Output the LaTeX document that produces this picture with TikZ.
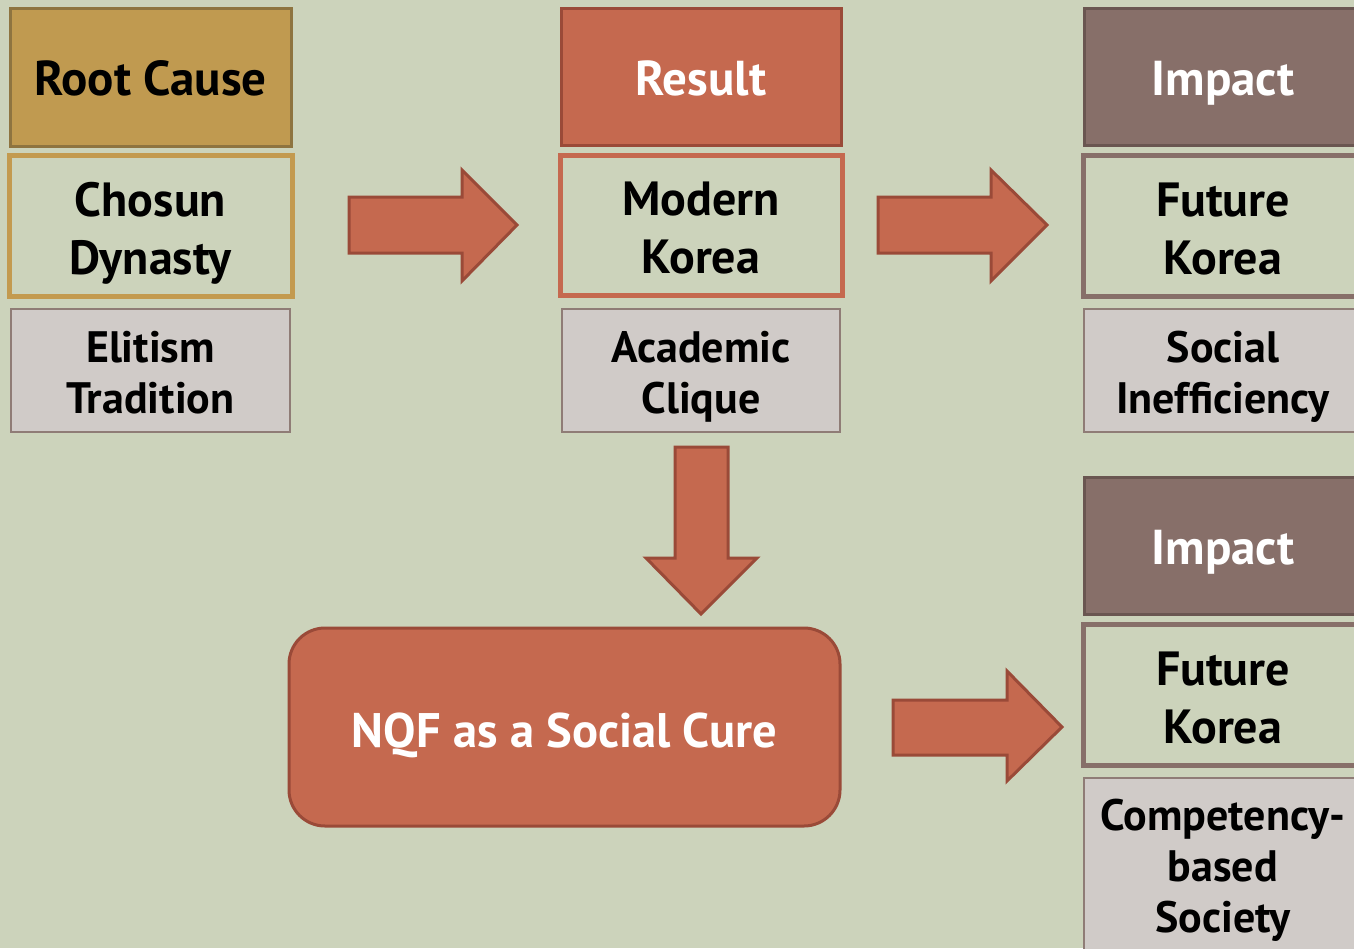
\documentclass[tikz,border=0pt]{standalone}
\usepackage{fontspec}
\setmainfont{PT Sans}
\definecolor{bgc}{HTML}{CCD3BB}
\definecolor{goldfill}{HTML}{C09A50}
\definecolor{golddark}{HTML}{8E7440}
\definecolor{goldframe}{HTML}{C39A4F}
\definecolor{redfill}{HTML}{C5694F}
\definecolor{reddark}{HTML}{9A4A38}
\definecolor{brownfill}{HTML}{876F69}
\definecolor{browndark}{HTML}{6A5651}
\definecolor{greyfill}{HTML}{D0CBC8}
\definecolor{greyedge}{HTML}{8F7C76}
\begin{document}
\begin{tikzpicture}[x=1pt,y=-1pt,
  box/.style={rectangle,inner sep=0pt,align=center,text depth=0pt},
  header/.style={box,line width=3pt,font=\bfseries\fontsize{49}{56}\selectfont,text height=37pt},
  frame/.style={box,fill=bgc,line width=5pt,font=\bfseries\fontsize{48}{58}\selectfont,text height=97pt},
  note/.style={box,fill=greyfill,draw=greyedge,line width=1.5pt,
    font=\bfseries\fontsize{44}{51}\selectfont,text height=86pt},
  blockarrow/.style={fill=redfill,draw=reddark,line width=3pt,line join=miter}]
\useasboundingbox (0,0) rectangle (1354,948);
\fill[bgc] (0,0) rectangle (1354,948);
\begin{scope}
\clip (0,0) rectangle (1354,948);
% left column
\node[header,fill=goldfill,draw=golddark,minimum width=281pt,minimum height=138pt] (rc) at (150.5,77) {Root Cause};
\node[frame,draw=goldframe,minimum width=283pt,minimum height=141pt] (cd) at (150.5,225.5) {Chosun\\Dynasty};
\node[note,minimum width=279pt,minimum height=123pt] (et) at (150.5,370.5) {Elitism\\Tradition};
% middle column
\node[header,fill=redfill,draw=reddark,text=white,minimum width=280pt,minimum height=137pt] (res) at (701,76.5) {Result};
\node[frame,draw=redfill,minimum width=282pt,minimum height=140pt] (mk) at (701,225) {Modern\\Korea};
\node[note,minimum width=278pt,minimum height=123pt] (ac) at (701,370.5) {Academic\\Clique};
% right column, upper group
\node[header,fill=brownfill,draw=browndark,text=white,minimum width=278pt,minimum height=137pt] (imp1) at (1223,76.5) {Impact};
\node[frame,draw=brownfill,minimum width=280pt,minimum height=141pt] (fk1) at (1223,225.5) {Future\\Korea};
\node[note,minimum width=278pt,minimum height=123pt] (si) at (1223,370.5) {Social\\Inefficiency};
% right column, lower group
\node[header,fill=brownfill,draw=browndark,text=white,minimum width=278pt,minimum height=137pt] (imp2) at (1223,545.5) {Impact};
\node[frame,draw=brownfill,minimum width=280pt,minimum height=141pt] (fk2) at (1223,694.5) {Future\\Korea};
\node[note,minimum width=278pt,minimum height=184pt,text height=125pt] (cbs) at (1223,870) {Competency-\\based\\Society};
\end{scope}
% the cure
\node[box,fill=redfill,draw=reddark,line width=3pt,rounded corners=36pt,text=white,
  font=\bfseries\fontsize{48.5}{56}\selectfont,text height=40pt,
  minimum width=551pt,minimum height=198pt] (nqf) at (564.5,727) {NQF as a Social Cure};
% block arrows
\draw[blockarrow] (349,197) -- (462,197) -- (462,170) -- (517,225) -- (462,281) -- (462,253) -- (349,253) -- cycle;
\draw[blockarrow] (878,197) -- (991,197) -- (991,170) -- (1047,225) -- (991,281) -- (991,253) -- (878,253) -- cycle;
\draw[blockarrow] (675,447) -- (728,447) -- (728,558) -- (757,558) -- (701,614) -- (646,558) -- (675,558) -- cycle;
\draw[blockarrow] (893,700) -- (1007,700) -- (1007,671) -- (1062,727) -- (1007,781) -- (1007,755) -- (893,755) -- cycle;
\end{tikzpicture}
\end{document}
